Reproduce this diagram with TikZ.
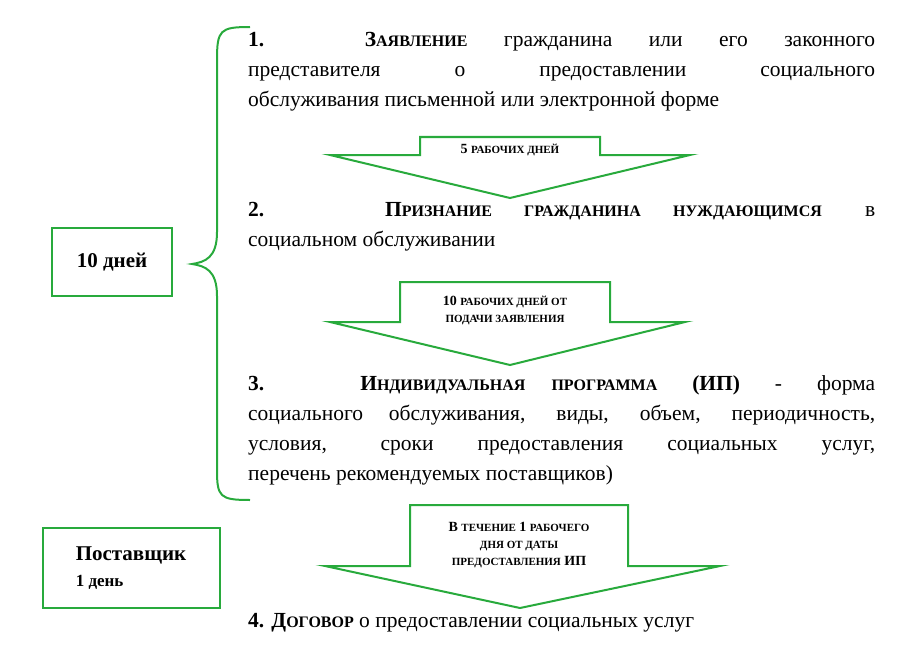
\documentclass[tikz,border=0pt]{standalone}
\usepackage{fontspec}
\setmainfont{Liberation Serif}
\usetikzlibrary{positioning}
\definecolor{arrowgreen}{RGB}{40,170,60}
\newcommand{\sm}[1]{{\fontsize{16}{16}\selectfont #1}}
\newcommand{\tn}[1]{{\fontsize{11}{11}\selectfont #1}}
\tikzset{
  stepbody/.style={font=\fontsize{21.5}{30}\selectfont, text width=627pt, align=justify, inner sep=0pt, anchor=north west},
  daybox/.style={draw=arrowgreen, line width=2pt, font=\fontsize{21}{26}\selectfont\bfseries},
  downarrow/.style={draw=arrowgreen, line width=2pt, fill=white, line join=miter},
  arrowtext/.style={font=\fontsize{14}{17}\selectfont\bfseries, align=center, inner sep=0pt}
}
\begin{document}
\begin{tikzpicture}[x=1pt,y=-1pt]
  \useasboundingbox (0,0) rectangle (915,666);

  % brace
  \draw[arrowgreen, line width=2pt] (250,27) .. controls (220,27) and (217,30) .. (217,60)
    -- (217,232) .. controls (217,258) and (205,262) .. (192,264)
    .. controls (205,266) and (217,270) .. (217,296)
    -- (217,470) .. controls (217,497) and (220,500) .. (250,500);

  % boxes
  \node[daybox, minimum width=120pt, minimum height=68pt] (tendays) at (112,262) {10 дней};
  \node[daybox, minimum width=177pt, minimum height=80pt, align=left] (supplier) at (131,568)
    {Поставщик\\{\fontsize{17}{22}\selectfont 1 день}};

  % steps
  \node[stepbody] (step1) at (248,32) {\textbf{1. З\sm{АЯВЛЕНИЕ}} гражданина или его законного\linebreak представителя о предоставлении социального\linebreak обслуживания письменной или электронной форме};
  \node[stepbody] (step2) at (248,202) {\textbf{2. П\sm{РИЗНАНИЕ ГРАЖДАНИНА НУЖДАЮЩИМСЯ}} в\linebreak социальном обслуживании};
  \node[stepbody] (step3) at (248,375) {\textbf{3. И\sm{НДИВИДУАЛЬНАЯ ПРОГРАММА} (ИП)} - форма\linebreak социального обслуживания, виды, объем, периодичность,\linebreak условия, сроки предоставления социальных услуг,\linebreak перечень рекомендуемых поставщиков)};
  \node[stepbody, anchor=west] (step4) at (248,623) {\textbf{4. Д\sm{ОГОВОР}} о предоставлении социальных услуг};

  % arrows
  \draw[downarrow] (420,137) -- (600,137) -- (600,155) -- (690,155) -- (510,198)
    -- (330,155) -- (420,155) -- cycle;
  \node[arrowtext] (arrow1) at (510,150) {5 \tn{РАБОЧИХ ДНЕЙ}};

  \draw[downarrow] (400,282) -- (610,282) -- (610,322) -- (685,322) -- (510,365)
    -- (330,322) -- (400,322) -- cycle;
  \node[arrowtext] (arrow2) at (505,310) {10 \tn{РАБОЧИХ ДНЕЙ ОТ}\\\tn{ПОДАЧИ ЗАЯВЛЕНИЯ}};

  \draw[downarrow] (410,505) -- (628,505) -- (628,566) -- (720,566) -- (520,608)
    -- (325,566) -- (410,566) -- cycle;
  \node[arrowtext] (arrow3) at (519,545) {В \tn{ТЕЧЕНИЕ} 1 \tn{РАБОЧЕГО}\\\tn{ДНЯ ОТ ДАТЫ}\\\tn{ПРЕДОСТАВЛЕНИЯ} ИП};
\end{tikzpicture}
\end{document}
